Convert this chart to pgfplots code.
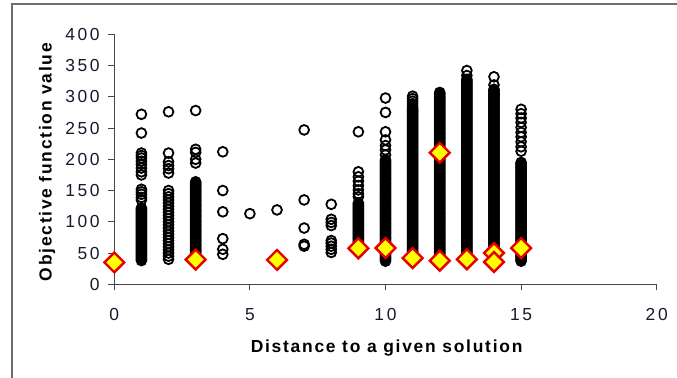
\documentclass[border=0pt]{standalone}
\usepackage{fontspec}
\setmainfont{Liberation Sans}
\newfontfamily\lblfont[LetterSpace=10]{Liberation Sans}
\newfontfamily\tickfont[LetterSpace=15]{Liberation Sans}
\usepackage{pgfplots}
\pgfplotsset{compat=1.18}
\definecolor{framegray}{RGB}{110,110,110}
\definecolor{axgray}{RGB}{70,70,70}
\definecolor{tickcol}{RGB}{25,25,45}
\definecolor{dred}{RGB}{230,0,0}
\definecolor{dyel}{RGB}{255,255,0}
\begin{document}
\begin{tikzpicture}
\path[use as bounding box] (0,0) rectangle (677bp,378bp);
\draw[framegray, line width=1.3bp] (12bp,0) -- (12bp,374bp) -- (677bp,374bp);
\begin{axis}[
 at={(114.3bp,93.7bp)}, anchor=south west,
 scale only axis, width=542.4bp, height=250bp,
 xmin=0,xmax=20,ymin=0,ymax=400,
 axis x line*=bottom, axis y line*=left,
 axis line style={axgray, line width=1bp, -},
 tick align=outside, major tick length=6bp,
 tick style={axgray, line width=1bp},
 xtick={0,5,10,15,20}, ytick={0,50,...,400},
 /pgf/number format/assume math mode=true,
 ticklabel style={font=\tickfont\fontsize{17.5}{20}\selectfont, text=tickcol, inner sep=0pt},
 xticklabel style={anchor=north, yshift=-18bp},
 yticklabel style={anchor=east, xshift=-8.5bp},
 xlabel={Distance to a given solution},
 ylabel={Objective function value},
 label style={font=\lblfont\bfseries\fontsize{17.5}{20}\selectfont, inner sep=0pt},
 xlabel style={at={(axis description cs:0.502,-0.2748)}, anchor=base},
 ylabel style={at={(axis description cs:-0.1154,0.489)}, anchor=base},
 clip=false,
]
\addplot[only marks, mark=o, mark size=4.9bp, mark options={line width=1.8bp, black}] coordinates {
(1,272)(1,242)(1,210)(1,206)(1,202)(1,197)(1,192)(1,186)(1,180)(1,175)(1,152)(1,148)(1,144)(1,139)(1,135)
(1,122)(1,120)(1,118)(1,116)(1,114)(1,112)(1,110)(1,108)(1,106)(1,104)(1,102)(1,100)(1,98)(1,96)(1,94)(1,92)(1,90)(1,88)(1,86)(1,84)(1,82)(1,80)(1,78)(1,76)(1,74)(1,72)(1,70)(1,68)(1,66)(1,64)(1,62)(1,60)(1,58)(1,56)(1,54)(1,52)(1,50)(1,48)(1,46)(1,44)(1,42)(1,40)(1,38)
(2,276)(2,210)(2,196)(2,190)(2,185)(2,178)(2,150)(2,145)(2,140)(2,135)(2,130)(2,125)(2,120)(2,115)(2,110)(2,105)(2,100)(2,95)(2,90)(2,85)(2,80)(2,75)(2,70)(2,65)(2,60)(2,55)(2,50)(2,45)(2,40)
(3,278)(3,216)(3,211)(3,200)(3,194)
(3,164)(3,162)(3,160)(3,158)(3,156)(3,154)(3,152)(3,150)(3,148)(3,146)(3,144)(3,142)(3,140)(3,138)(3,136)(3,134)(3,132)(3,130)(3,128)(3,126)(3,124)(3,122)(3,120)(3,118)(3,116)(3,114)(3,112)(3,110)(3,108)(3,106)(3,104)(3,102)(3,100)(3,98)(3,96)(3,94)(3,92)(3,90)(3,88)(3,86)(3,84)(3,82)(3,80)(3,78)(3,76)(3,74)(3,72)(3,70)(3,68)(3,66)(3,64)(3,62)(3,60)(3,58)(3,56)(3,54)(3,52)(3,50)(3,48)(3,46)(3,44)(3,42)(3,40)
(4,212)(4,150)(4,116)(4,73)(4,56)(4,48)
(5,113)(6,119)
(7,247)(7,135)(7,90)(7,64)(7,61)
(8,128)(8,104)(8,99)(8,94)(8,70)(8,66)(8,61)(8,56)(8,51)
(9,244)(9,180)(9,172)(9,165)(9,158)(9,151)(9,145)(9,140)
(9,130)(9,128)(9,126)(9,124)(9,122)(9,120)(9,118)(9,116)(9,114)(9,112)(9,110)(9,108)(9,106)(9,104)(9,102)(9,100)(9,98)(9,96)(9,94)(9,92)(9,90)(9,88)(9,86)(9,84)(9,82)(9,80)(9,78)(9,76)(9,74)(9,72)(9,70)(9,68)(9,66)(9,64)(9,62)(9,60)(9,56)(9,52)
(10,298)(10,275)(10,244)(10,231)(10,222)(10,215)(10,207)
(10,199)(10,197)(10,195)(10,193)(10,191)(10,189)(10,187)(10,185)(10,183)(10,181)(10,179)(10,177)(10,175)(10,173)(10,171)(10,169)(10,167)(10,165)(10,163)(10,161)(10,159)(10,157)(10,155)(10,153)(10,151)(10,149)(10,147)(10,145)(10,143)(10,141)(10,139)(10,137)(10,135)(10,133)(10,131)(10,129)(10,127)(10,125)(10,123)(10,121)(10,119)(10,117)(10,115)(10,113)(10,111)(10,109)(10,107)(10,105)(10,103)(10,101)(10,99)(10,97)(10,95)(10,93)(10,91)(10,89)(10,87)(10,85)(10,83)(10,81)(10,79)(10,77)(10,75)(10,73)(10,71)(10,69)(10,67)(10,65)(10,63)(10,61)(10,59)(10,57)(10,55)(10,53)(10,51)(10,49)(10,47)(10,45)(10,43)(10,41)(10,39)(10,37)
(11,301)(11,297)(11,293)(11,289)(11,285)
(11,282)(11,280)(11,278)(11,276)(11,274)(11,272)(11,270)(11,268)(11,266)(11,264)(11,262)(11,260)(11,258)(11,256)(11,254)(11,252)(11,250)(11,248)(11,246)(11,244)(11,242)(11,240)(11,238)(11,236)(11,234)(11,232)(11,230)(11,228)(11,226)(11,224)(11,222)(11,220)(11,218)(11,216)(11,214)(11,212)(11,210)(11,208)(11,206)(11,204)(11,202)(11,200)(11,198)(11,196)(11,194)(11,192)(11,190)(11,188)(11,186)(11,184)(11,182)(11,180)(11,178)(11,176)(11,174)(11,172)(11,170)(11,168)(11,166)(11,164)(11,162)(11,160)(11,158)(11,156)(11,154)(11,152)(11,150)(11,148)(11,146)(11,144)(11,142)(11,140)(11,138)(11,136)(11,134)(11,132)(11,130)(11,128)(11,126)(11,124)(11,122)(11,120)(11,118)(11,116)(11,114)(11,112)(11,110)(11,108)(11,106)(11,104)(11,102)(11,100)(11,98)(11,96)(11,94)(11,92)(11,90)(11,88)(11,86)(11,84)(11,82)(11,80)(11,78)(11,76)(11,74)(11,72)(11,70)(11,68)(11,66)(11,64)(11,62)(11,60)(11,58)(11,56)(11,54)(11,52)(11,50)(11,48)(11,46)(11,44)(11,42)
(12,307)(12,305)(12,303)(12,301)(12,299)(12,297)(12,295)(12,293)(12,291)(12,289)(12,287)(12,285)(12,283)(12,281)(12,279)(12,277)(12,275)(12,273)(12,271)(12,269)(12,267)(12,265)(12,263)(12,261)(12,259)(12,257)(12,255)(12,253)(12,251)(12,249)(12,247)(12,245)(12,243)(12,241)(12,239)(12,237)(12,235)(12,233)(12,231)(12,229)(12,227)(12,225)(12,223)(12,221)(12,219)(12,217)(12,215)(12,213)(12,211)(12,209)(12,207)(12,205)(12,203)(12,201)(12,199)(12,197)(12,195)(12,193)(12,191)(12,189)(12,187)(12,185)(12,183)(12,181)(12,179)(12,177)(12,175)(12,173)(12,171)(12,169)(12,167)(12,165)(12,163)(12,161)(12,159)(12,157)(12,155)(12,153)(12,151)(12,149)(12,147)(12,145)(12,143)(12,141)(12,139)(12,137)(12,135)(12,133)(12,131)(12,129)(12,127)(12,125)(12,123)(12,121)(12,119)(12,117)(12,115)(12,113)(12,111)(12,109)(12,107)(12,105)(12,103)(12,101)(12,99)(12,97)(12,95)(12,93)(12,91)(12,89)(12,87)(12,85)(12,83)(12,81)(12,79)(12,77)(12,75)(12,73)(12,71)(12,69)(12,67)(12,65)(12,63)(12,61)(12,59)(12,57)(12,55)(12,53)(12,51)(12,49)(12,47)(12,45)(12,43)(12,41)(12,39)(12,37)
(13,342)(13,334)
(13,328)(13,326)(13,324)(13,322)(13,320)(13,318)(13,316)(13,314)(13,312)(13,310)(13,308)(13,306)(13,304)(13,302)(13,300)(13,298)(13,296)(13,294)(13,292)(13,290)(13,288)(13,286)(13,284)(13,282)(13,280)(13,278)(13,276)(13,274)(13,272)(13,270)(13,268)(13,266)(13,264)(13,262)(13,260)(13,258)(13,256)(13,254)(13,252)(13,250)(13,248)(13,246)(13,244)(13,242)(13,240)(13,238)(13,236)(13,234)(13,232)(13,230)(13,228)(13,226)(13,224)(13,222)(13,220)(13,218)(13,216)(13,214)(13,212)(13,210)(13,208)(13,206)(13,204)(13,202)(13,200)(13,198)(13,196)(13,194)(13,192)(13,190)(13,188)(13,186)(13,184)(13,182)(13,180)(13,178)(13,176)(13,174)(13,172)(13,170)(13,168)(13,166)(13,164)(13,162)(13,160)(13,158)(13,156)(13,154)(13,152)(13,150)(13,148)(13,146)(13,144)(13,142)(13,140)(13,138)(13,136)(13,134)(13,132)(13,130)(13,128)(13,126)(13,124)(13,122)(13,120)(13,118)(13,116)(13,114)(13,112)(13,110)(13,108)(13,106)(13,104)(13,102)(13,100)(13,98)(13,96)(13,94)(13,92)(13,90)(13,88)(13,86)(13,84)(13,82)(13,80)(13,78)(13,76)(13,74)(13,72)(13,70)(13,68)(13,66)(13,64)(13,62)(13,60)(13,58)(13,56)(13,54)(13,52)(13,50)(13,48)(13,46)(13,44)(13,42)(13,40)
(14,332)(14,319)
(14,312)(14,310)(14,308)(14,306)(14,304)(14,302)(14,300)(14,298)(14,296)(14,294)(14,292)(14,290)(14,288)(14,286)(14,284)(14,282)(14,280)(14,278)(14,276)(14,274)(14,272)(14,270)(14,268)(14,266)(14,264)(14,262)(14,260)(14,258)(14,256)(14,254)(14,252)(14,250)(14,248)(14,246)(14,244)(14,242)(14,240)(14,238)(14,236)(14,234)(14,232)(14,230)(14,228)(14,226)(14,224)(14,222)(14,220)(14,218)(14,216)(14,214)(14,212)(14,210)(14,208)(14,206)(14,204)(14,202)(14,200)(14,198)(14,196)(14,194)(14,192)(14,190)(14,188)(14,186)(14,184)(14,182)(14,180)(14,178)(14,176)(14,174)(14,172)(14,170)(14,168)(14,166)(14,164)(14,162)(14,160)(14,158)(14,156)(14,154)(14,152)(14,150)(14,148)(14,146)(14,144)(14,142)(14,140)(14,138)(14,136)(14,134)(14,132)(14,130)(14,128)(14,126)(14,124)(14,122)(14,120)(14,118)(14,116)(14,114)(14,112)(14,110)(14,108)(14,106)(14,104)(14,102)(14,100)(14,98)(14,96)(14,94)(14,92)(14,90)(14,88)(14,86)(14,84)(14,82)(14,80)(14,78)(14,76)(14,74)(14,72)(14,70)(14,68)(14,66)(14,64)(14,62)(14,60)(14,58)(14,56)(14,54)(14,52)(14,50)(14,48)(14,46)(14,44)(14,42)(14,40)(14,38)(14,36)
(15,280)(15,273)(15,266)(15,259)(15,251)(15,243)(15,236)(15,228)(15,220)(15,213)
(15,195)(15,193)(15,191)(15,189)(15,187)(15,185)(15,183)(15,181)(15,179)(15,177)(15,175)(15,173)(15,171)(15,169)(15,167)(15,165)(15,163)(15,161)(15,159)(15,157)(15,155)(15,153)(15,151)(15,149)(15,147)(15,145)(15,143)(15,141)(15,139)(15,137)(15,135)(15,133)(15,131)(15,129)(15,127)(15,125)(15,123)(15,121)(15,119)(15,117)(15,115)(15,113)(15,111)(15,109)(15,107)(15,105)(15,103)(15,101)(15,99)(15,97)(15,95)(15,93)(15,91)(15,89)(15,87)(15,85)(15,83)(15,81)(15,79)(15,77)(15,75)(15,73)(15,71)(15,69)(15,67)(15,65)(15,63)(15,61)(15,59)(15,57)(15,55)(15,53)(15,51)(15,49)(15,47)(15,45)(15,43)(15,41)(15,39)(15,37)
};
\addplot[only marks, mark=square*, mark size=7bp, mark options={rotate=45, line width=2.4bp, draw=dred, fill=dyel}] coordinates {
(0,35)(3,39.5)(6,39)(9,57.6)(10,58)(11,42)(12,37.8)(12,210.6)(13,40)(14,50)(14,35.7)(15,58)
};
\end{axis}
\end{tikzpicture}
\end{document}
